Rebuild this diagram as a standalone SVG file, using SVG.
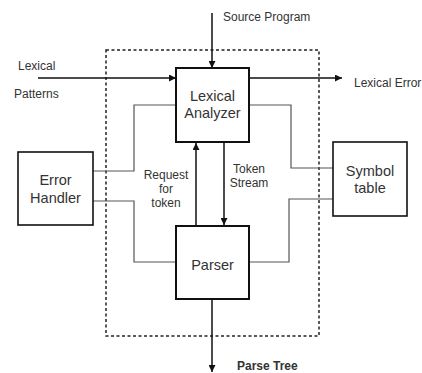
<svg xmlns="http://www.w3.org/2000/svg" width="422" height="373" viewBox="0 0 422 373">
<defs>
<marker id="ah" viewBox="0 0 8 8" refX="8" refY="4" markerWidth="7" markerHeight="7" markerUnits="userSpaceOnUse" orient="auto">
<path d="M0,0 L8,4 L0,8 Z" fill="#111"/>
</marker>
<style>
.box{fill:#fff;stroke:#111;stroke-width:2}
.sbox{fill:#fff;stroke:#111;stroke-width:1.6}
.lbl{font-family:"Liberation Sans",Arial,sans-serif;font-size:14.5px;fill:#333;text-anchor:middle}
.sm{font-family:"Liberation Sans",Arial,sans-serif;font-size:12px;fill:#333}
.arr{stroke:#111;stroke-width:1.5;fill:none;marker-end:url(#ah)}
.gl{stroke:#555;stroke-width:1.2;fill:none}
.dash{fill:none;stroke:#222;stroke-width:1.5;stroke-dasharray:3,2.5}
</style>
</defs>
<rect class="dash" x="106" y="50" width="213" height="286"/>
<g id="connectors">
<line class="arr" x1="212" y1="13" x2="212" y2="68"/>
<line class="arr" x1="38" y1="78" x2="176" y2="78"/>
<line class="arr" x1="249" y1="78" x2="342" y2="78"/>
<line class="arr" x1="196" y1="226" x2="196" y2="143"/>
<line class="arr" x1="224" y1="142" x2="224" y2="225"/>
<line class="arr" x1="212" y1="299" x2="212" y2="372"/>
<polyline class="gl" points="176,105 134,105 134,171 93,171"/>
<polyline class="gl" points="93,201 134,201 134,262 176,262"/>
<polyline class="gl" points="249,105 291,105 291,168 333,168"/>
<polyline class="gl" points="333,199 289,199 289,262 249,262"/>
</g>
<g id="lexical-analyzer">
<rect class="box" x="176" y="68" width="73" height="74"/>
<text class="lbl" x="212.5" y="101">Lexical</text>
<text class="lbl" x="212.5" y="118">Analyzer</text>
</g>
<g id="parser">
<rect class="box" x="176" y="226" width="73" height="73"/>
<text class="lbl" x="212.5" y="270">Parser</text>
</g>
<g id="error-handler">
<rect class="sbox" x="18" y="152" width="75" height="73"/>
<text class="lbl" x="55.5" y="185">Error</text>
<text class="lbl" x="55.5" y="203">Handler</text>
</g>
<g id="symbol-table">
<rect class="sbox" x="333" y="142" width="74" height="74"/>
<text class="lbl" x="370" y="176">Symbol</text>
<text class="lbl" x="370" y="193">table</text>
</g>
<g id="labels">
<text class="sm" x="223" y="21">Source Program</text>
<text class="sm" x="18" y="70">Lexical</text>
<text class="sm" x="14" y="98">Patterns</text>
<text class="sm" x="354" y="87">Lexical Error</text>
<text class="sm" x="166" y="179" text-anchor="middle">Request</text>
<text class="sm" x="166" y="193" text-anchor="middle">for</text>
<text class="sm" x="166" y="207" text-anchor="middle">token</text>
<text class="sm" x="249" y="173" text-anchor="middle">Token</text>
<text class="sm" x="249" y="187" text-anchor="middle">Stream</text>
<text class="sm" x="237" y="370" font-weight="bold">Parse Tree</text>
</g>
</svg>
